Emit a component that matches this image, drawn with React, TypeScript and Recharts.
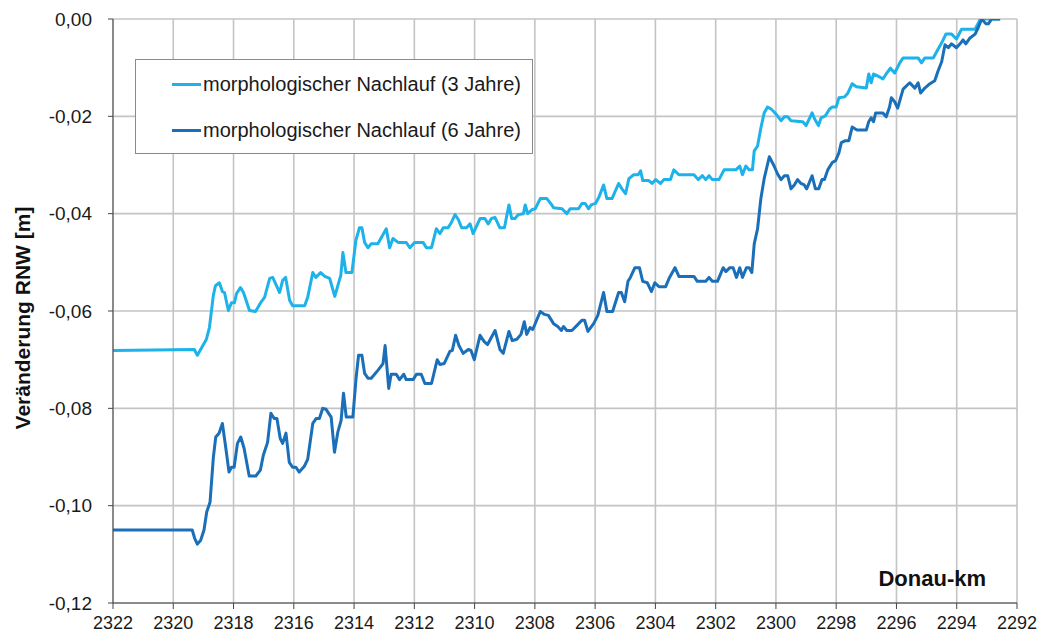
import React from 'react';
import { LineChart, Line, XAxis, YAxis, CartesianGrid, Legend, Label } from 'recharts';

// Donau-km positions and RNW change (m) for "morphologischer Nachlauf (3 Jahre)"
const km3 = [
  2322.00, 2319.30, 2319.20, 2318.90, 2318.80, 2318.67, 2318.60, 2318.47, 2318.37, 2318.30,
  2318.17, 2318.07, 2317.97, 2317.90, 2317.77, 2317.67, 2317.47, 2317.27, 2317.10, 2316.97,
  2316.80, 2316.70, 2316.47, 2316.37, 2316.27, 2316.14, 2316.04, 2315.64, 2315.54, 2315.37,
  2315.27, 2315.11, 2314.97, 2314.81, 2314.64, 2314.47, 2314.44, 2314.37, 2314.27, 2314.07,
  2313.94, 2313.82, 2313.74, 2313.65, 2313.54, 2313.43, 2313.21, 2312.93, 2312.82, 2312.71,
  2312.54, 2312.27, 2312.15, 2311.99, 2311.71, 2311.60, 2311.43, 2311.27, 2311.15, 2311.04,
  2310.88, 2310.77, 2310.65, 2310.54, 2310.43, 2310.27, 2310.15, 2310.05, 2309.82, 2309.66,
  2309.55, 2309.44, 2309.32, 2309.16, 2309.01, 2308.86, 2308.77, 2308.66, 2308.55, 2308.38,
  2308.32, 2308.24, 2308.10, 2307.99, 2307.82, 2307.60, 2307.44, 2307.38, 2307.10, 2306.94,
  2306.83, 2306.55, 2306.44, 2306.33, 2306.22, 2306.13, 2305.99, 2305.88, 2305.72, 2305.61,
  2305.44, 2305.22, 2305.11, 2304.99, 2304.88, 2304.72, 2304.57, 2304.49, 2304.42, 2304.22,
  2304.11, 2303.99, 2303.83, 2303.72, 2303.50, 2303.39, 2303.22, 2302.72, 2302.58, 2302.44,
  2302.33, 2302.22, 2302.11, 2301.89, 2301.72, 2301.33, 2301.20, 2301.11, 2301.00, 2300.89,
  2300.78, 2300.72, 2300.61, 2300.50, 2300.39, 2300.28, 2300.16, 2300.06, 2299.95, 2299.83,
  2299.72, 2299.61, 2299.50, 2299.11, 2299.00, 2298.80, 2298.72, 2298.59, 2298.50, 2298.36,
  2298.22, 2298.13, 2298.00, 2297.91, 2297.72, 2297.61, 2297.47, 2297.33, 2297.00, 2296.92,
  2296.84, 2296.76, 2296.62, 2296.45, 2296.34, 2296.20, 2296.06, 2295.89, 2295.78, 2295.28,
  2295.17, 2295.06, 2294.78, 2294.62, 2294.50, 2294.36, 2294.17, 2294.01, 2293.84, 2293.39,
  2293.23, 2293.10, 2292.56,
];
const rnw3 = [
  -0.0681, -0.0679, -0.0691, -0.0658, -0.0634, -0.0568, -0.0548, -0.0542, -0.0560, -0.0562,
  -0.0599, -0.0583, -0.0583, -0.0564, -0.0552, -0.0562, -0.0599, -0.0601, -0.0583, -0.0572,
  -0.0533, -0.0531, -0.0562, -0.0537, -0.0531, -0.0578, -0.0589, -0.0589, -0.0572, -0.0521,
  -0.0531, -0.0521, -0.0529, -0.0533, -0.0570, -0.0533, -0.0527, -0.0480, -0.0521, -0.0521,
  -0.0455, -0.0429, -0.0429, -0.0459, -0.0470, -0.0462, -0.0462, -0.0431, -0.0470, -0.0451,
  -0.0459, -0.0459, -0.0470, -0.0459, -0.0459, -0.0470, -0.0470, -0.0431, -0.0441, -0.0429,
  -0.0429, -0.0418, -0.0402, -0.0412, -0.0429, -0.0429, -0.0421, -0.0441, -0.0410, -0.0410,
  -0.0421, -0.0410, -0.0408, -0.0429, -0.0429, -0.0382, -0.0410, -0.0410, -0.0402, -0.0400,
  -0.0382, -0.0400, -0.0392, -0.0390, -0.0369, -0.0369, -0.0382, -0.0388, -0.0390, -0.0400,
  -0.0390, -0.0390, -0.0379, -0.0379, -0.0390, -0.0382, -0.0379, -0.0367, -0.0341, -0.0369,
  -0.0369, -0.0338, -0.0349, -0.0359, -0.0328, -0.0320, -0.0320, -0.0312, -0.0332, -0.0332,
  -0.0338, -0.0330, -0.0338, -0.0330, -0.0330, -0.0310, -0.0320, -0.0320, -0.0330, -0.0322,
  -0.0330, -0.0322, -0.0330, -0.0330, -0.0310, -0.0310, -0.0302, -0.0320, -0.0302, -0.0310,
  -0.0310, -0.0271, -0.0261, -0.0224, -0.0193, -0.0181, -0.0185, -0.0191, -0.0199, -0.0209,
  -0.0201, -0.0201, -0.0209, -0.0211, -0.0219, -0.0193, -0.0205, -0.0219, -0.0203, -0.0199,
  -0.0185, -0.0181, -0.0181, -0.0162, -0.0160, -0.0152, -0.0133, -0.0139, -0.0142, -0.0113,
  -0.0131, -0.0113, -0.0117, -0.0123, -0.0113, -0.0101, -0.0111, -0.0090, -0.0080, -0.0080,
  -0.0090, -0.0080, -0.0080, -0.0062, -0.0049, -0.0031, -0.0031, -0.0041, -0.0021, -0.0021,
  -0.0002, 0.0, 0.0,
];

// Donau-km positions and RNW change (m) for "morphologischer Nachlauf (6 Jahre)"
const km6 = [
  2322.00, 2319.37, 2319.29, 2319.20, 2319.09, 2318.98, 2318.89, 2318.78, 2318.67, 2318.59,
  2318.48, 2318.37, 2318.26, 2318.15, 2318.07, 2317.98, 2317.87, 2317.76, 2317.65, 2317.48,
  2317.26, 2317.11, 2317.01, 2316.87, 2316.76, 2316.65, 2316.56, 2316.45, 2316.37, 2316.26,
  2316.15, 2316.04, 2315.93, 2315.82, 2315.65, 2315.54, 2315.37, 2315.26, 2315.15, 2315.04,
  2314.93, 2314.76, 2314.65, 2314.54, 2314.43, 2314.35, 2314.26, 2314.04, 2313.93, 2313.85,
  2313.74, 2313.65, 2313.54, 2313.43, 2313.21, 2313.04, 2312.97, 2312.85, 2312.77, 2312.60,
  2312.49, 2312.35, 2312.27, 2312.04, 2311.93, 2311.77, 2311.65, 2311.43, 2311.24, 2311.15,
  2311.01, 2310.82, 2310.74, 2310.63, 2310.52, 2310.38, 2310.21, 2310.12, 2310.01, 2309.82,
  2309.68, 2309.57, 2309.32, 2309.16, 2309.05, 2308.86, 2308.75, 2308.60, 2308.46, 2308.35,
  2308.27, 2308.16, 2308.07, 2307.82, 2307.68, 2307.55, 2307.38, 2307.24, 2307.12, 2307.05,
  2306.94, 2306.77, 2306.61, 2306.44, 2306.35, 2306.24, 2306.05, 2305.91, 2305.72, 2305.61,
  2305.42, 2305.22, 2305.13, 2305.02, 2304.91, 2304.83, 2304.68, 2304.53, 2304.42, 2304.27,
  2304.13, 2304.02, 2303.88, 2303.66, 2303.53, 2303.35, 2303.22, 2302.72, 2302.61, 2302.33,
  2302.22, 2302.11, 2301.94, 2301.75, 2301.66, 2301.53, 2301.42, 2301.31, 2301.20, 2301.11,
  2300.98, 2300.89, 2300.80, 2300.72, 2300.61, 2300.50, 2300.39, 2300.22, 2300.06, 2299.95,
  2299.83, 2299.72, 2299.61, 2299.50, 2299.39, 2299.28, 2299.17, 2299.06, 2298.98, 2298.80,
  2298.69, 2298.58, 2298.47, 2298.39, 2298.28, 2298.13, 2298.02, 2297.91, 2297.83, 2297.69,
  2297.58, 2297.47, 2297.31, 2297.00, 2296.92, 2296.84, 2296.76, 2296.69, 2296.45, 2296.34,
  2296.23, 2296.17, 2296.06, 2295.96, 2295.78, 2295.56, 2295.39, 2295.28, 2295.20, 2295.06,
  2294.89, 2294.73, 2294.62, 2294.50, 2294.39, 2294.28, 2294.17, 2294.01, 2293.89, 2293.79,
  2293.70, 2293.56, 2293.39, 2293.29, 2293.17, 2293.03, 2292.95, 2292.84, 2292.56,
];
const rnw6 = [
  -0.1050, -0.1050, -0.1067, -0.1079, -0.1071, -0.1050, -0.1013, -0.0993, -0.0901, -0.0859,
  -0.0851, -0.0831, -0.0880, -0.0931, -0.0921, -0.0921, -0.0872, -0.0859, -0.0882, -0.0939,
  -0.0939, -0.0927, -0.0896, -0.0870, -0.0810, -0.0821, -0.0821, -0.0862, -0.0872, -0.0851,
  -0.0911, -0.0921, -0.0921, -0.0931, -0.0919, -0.0905, -0.0831, -0.0821, -0.0821, -0.0800,
  -0.0802, -0.0818, -0.0890, -0.0849, -0.0825, -0.0769, -0.0818, -0.0818, -0.0736, -0.0691,
  -0.0691, -0.0728, -0.0738, -0.0738, -0.0722, -0.0708, -0.0671, -0.0759, -0.0730, -0.0730,
  -0.0741, -0.0730, -0.0741, -0.0741, -0.0730, -0.0730, -0.0749, -0.0749, -0.0700, -0.0710,
  -0.0708, -0.0683, -0.0681, -0.0650, -0.0671, -0.0687, -0.0679, -0.0681, -0.0700, -0.0650,
  -0.0663, -0.0669, -0.0640, -0.0679, -0.0687, -0.0642, -0.0661, -0.0658, -0.0648, -0.0622,
  -0.0648, -0.0634, -0.0638, -0.0601, -0.0607, -0.0609, -0.0626, -0.0632, -0.0640, -0.0632,
  -0.0640, -0.0640, -0.0630, -0.0619, -0.0619, -0.0642, -0.0626, -0.0609, -0.0562, -0.0601,
  -0.0601, -0.0562, -0.0562, -0.0581, -0.0539, -0.0531, -0.0511, -0.0511, -0.0539, -0.0542,
  -0.0560, -0.0542, -0.0550, -0.0550, -0.0531, -0.0511, -0.0529, -0.0529, -0.0539, -0.0539,
  -0.0531, -0.0539, -0.0539, -0.0511, -0.0519, -0.0511, -0.0511, -0.0531, -0.0511, -0.0531,
  -0.0511, -0.0511, -0.0521, -0.0462, -0.0431, -0.0369, -0.0328, -0.0283, -0.0302, -0.0318,
  -0.0330, -0.0322, -0.0322, -0.0349, -0.0341, -0.0330, -0.0338, -0.0341, -0.0349, -0.0322,
  -0.0349, -0.0349, -0.0330, -0.0330, -0.0310, -0.0295, -0.0291, -0.0275, -0.0254, -0.0250,
  -0.0250, -0.0222, -0.0228, -0.0228, -0.0211, -0.0203, -0.0211, -0.0193, -0.0193, -0.0201,
  -0.0181, -0.0162, -0.0170, -0.0183, -0.0144, -0.0131, -0.0142, -0.0131, -0.0152, -0.0142,
  -0.0133, -0.0127, -0.0107, -0.0088, -0.0053, -0.0059, -0.0051, -0.0059, -0.0051, -0.0043,
  -0.0051, -0.0039, -0.0031, -0.0018, 0.0, -0.0010, -0.0010, 0.0, 0.0,
];

const xTicks = [2322, 2320, 2318, 2316, 2314, 2312, 2310, 2308, 2306, 2304, 2302, 2300, 2298, 2296, 2294, 2292];
const yTicks = [0, -0.02, -0.04, -0.06, -0.08, -0.1, -0.12];
const xDomain = [2292, 2322];
const yDomain = [-0.12, 0];
const xMinorStep = 0.5;
const yMinorStep = 0.004;

const seriesNames = ['morphologischer Nachlauf (3 Jahre)', 'morphologischer Nachlauf (6 Jahre)'];
const seriesColors = ['#1db2ea', '#1a6fb8'];

const xMinorTicks: number[] = [];
for (let v = xDomain[0]; v <= xDomain[1] + 1e-9; v += xMinorStep) xMinorTicks.push(Math.round(v * 10) / 10);
const yMinorTicks: number[] = [];
for (let i = 0; i <= Math.round((yDomain[1] - yDomain[0]) / yMinorStep); i++) yMinorTicks.push(Math.round((yDomain[0] + i * yMinorStep) * 1000) / 1000);

const data3 = km3.map((k, i) => ({ km: k, v: rnw3[i] }));
const data6 = km6.map((k, i) => ({ km: k, v: rnw6[i] }));

const FONT = '"Liberation Sans", Arial, Helvetica, sans-serif';

const fmtY = (v: number) => v.toFixed(2).replace('.', ',');

const LegendBox = () => (
  <div
    style={{
      width: 398,
      height: 95,
      border: '1px solid #8a8a8a',
      background: '#fff',
      boxSizing: 'border-box',
      position: 'relative',
      fontFamily: FONT,
      fontSize: 20,
      color: '#1a1a1a',
    }}
  >
    {seriesNames.map((n, i) => (
      <div
        key={n}
        style={{
          position: 'absolute',
          left: 36,
          top: (i === 0 ? 24 : 70) - 13,
          height: 26,
          display: 'flex',
          alignItems: 'center',
          whiteSpace: 'nowrap',
        }}
      >
        <span style={{ display: 'inline-block', width: 29, height: 3, background: seriesColors[i], marginRight: 2 }} />
        <span>{n}</span>
      </div>
    ))}
  </div>
);

export default function App() {
  return (
    <div style={{ position: 'relative', width: 1040, height: 625 }}>
      <LineChart
        width={1040}
        height={625}
        margin={{ top: 11, right: 31, bottom: 0, left: 0 }}
        style={{ fontFamily: FONT }}
      >
        <CartesianGrid stroke="#c4c4c4" strokeWidth={1.6} />
        <XAxis
          xAxisId="minor"
          type="number"
          dataKey="km"
          domain={xDomain}
          reversed
          allowDataOverflow
          ticks={xMinorTicks}
          interval={0}
          tick={false}
          axisLine={false}
          tickSize={5}
          mirror
          height={0}
          stroke="#444"
        />
        <XAxis
          type="number"
          dataKey="km"
          domain={xDomain}
          reversed
          allowDataOverflow
          ticks={xTicks}
          interval={0}
          height={30}
          tickSize={6}
          tickMargin={7}
          stroke="#444"
          tick={{ fill: '#1a1a1a', fontSize: 18 }}
        >
          <Label
            content={(p: any) => {
              const vb = p.viewBox || { x: 105, y: 595, width: 904 };
              return (
                <text
                  x={vb.x + vb.width - 31}
                  y={vb.y - 17}
                  textAnchor="end"
                  fontWeight="bold"
                  fontSize={22}
                  fill="#111"
                  fontFamily={FONT}
                >
                  Donau-km
                </text>
              );
            }}
          />
        </XAxis>
        <YAxis
          yAxisId="minor"
          type="number"
          domain={yDomain}
          allowDataOverflow
          ticks={yMinorTicks}
          interval={0}
          tick={false}
          axisLine={false}
          tickSize={4}
          mirror
          width={0}
          stroke="#444"
        />
        <YAxis
          type="number"
          domain={yDomain}
          allowDataOverflow
          ticks={yTicks}
          interval={0}
          width={105}
          tickSize={5}
          tickMargin={16}
          stroke="#444"
          tickFormatter={fmtY}
          tick={{ fill: '#1a1a1a', fontSize: 19 }}
        >
          <Label
            content={(p: any) => {
              const vb = p.viewBox || { x: 0, y: 11, width: 105, height: 584 };
              const cx = 14;
              const cy = vb.y + vb.height / 2 + 7;
              return (
                <text
                  x={cx}
                  y={cy}
                  transform={`rotate(-90 ${cx} ${cy})`}
                  textAnchor="middle"
                  dominantBaseline="central"
                  fontWeight="bold"
                  fontSize={21}
                  fill="#111"
                  fontFamily={FONT}
                >
                  Veränderung RNW [m]
                </text>
              );
            }}
          />
        </YAxis>
        <Legend
          layout="vertical"
          align="center"
          verticalAlign="middle"
          content={<LegendBox />}
          wrapperStyle={{ position: 'absolute', left: 127, top: 51, width: 398 }}
        />
        <Line
          data={data3}
          dataKey="v"
          name={seriesNames[0]}
          stroke={seriesColors[0]}
          strokeWidth={3}
          strokeLinejoin="round"
          dot={false}
          activeDot={false}
          isAnimationActive={false}
          type="linear"
        />
        <Line
          data={data6}
          dataKey="v"
          name={seriesNames[1]}
          stroke={seriesColors[1]}
          strokeWidth={3}
          strokeLinejoin="round"
          dot={false}
          activeDot={false}
          isAnimationActive={false}
          type="linear"
        />
      </LineChart>
    </div>
  );
}
